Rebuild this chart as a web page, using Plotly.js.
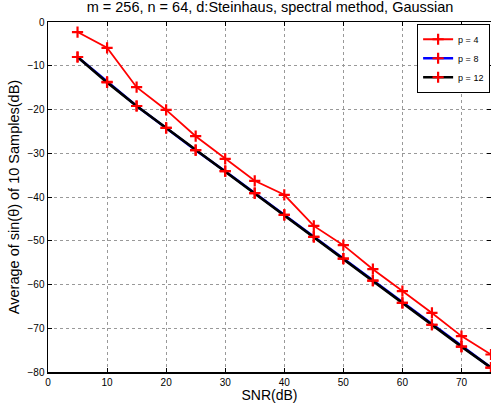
<!DOCTYPE html>
<html><head><meta charset="utf-8">
<script src="https://cdn.plot.ly/plotly-3.0.1.min.js"></script>
<style>body{margin:0;padding:0;background:#fff}#c{width:491px;height:408px}</style>
</head><body><div id="c"></div>
<script>
const snr = [5,10,15,20,25,30,35,40,45,50,55,60,65,70,75];
const p4  = [-2.3,-5.9,-14.9,-20.1,-26.1,-31.3,-36.3,-39.5,-46.6,-51.0,-56.5,-61.5,-66.5,-71.8,-76.0];
const p8  = [-8.0,-13.7,-19.2,-24.2,-29.3,-34.1,-39.1,-44.1,-49.1,-54.1,-59.1,-64.2,-69.2,-74.2,-79.0];
const p12 = [-8.0,-13.8,-19.2,-24.2,-29.3,-34.1,-39.1,-44.1,-49.1,-54.1,-59.1,-64.2,-69.2,-74.2,-79.0];
const names = ['p = 4','p = 8','p = 12'];
const mk = {symbol:'cross-thin',size:8,color:'red',line:{color:'red',width:2.2}};
const traces = [
  {x:snr,y:p4,name:names[0],mode:'lines+markers',line:{color:'red',width:1.8},marker:mk},
  {x:snr,y:p8,name:names[1],mode:'lines+markers',line:{color:'blue',width:2.5},marker:mk},
  {x:snr,y:p12,name:names[2],mode:'lines+markers',line:{color:'black',width:2.6},marker:mk}
];
const ax = {showline:true,linecolor:'black',linewidth:1.5,mirror:'ticks',ticks:'inside',ticklen:4,tickcolor:'black',
  showgrid:true,gridcolor:'#999',griddash:'dot',gridwidth:1,zeroline:false,tickfont:{family:'Liberation Sans, Arial',size:10,color:'black'}};
const layout = {
  width:491,height:408,margin:{l:48,r:0,t:22,b:36},
  paper_bgcolor:'white',plot_bgcolor:'white',
  font:{family:'Liberation Sans, Arial',color:'black'},
  title:{text:'m = 256, n = 64, d:Steinhaus, spectral method, Gaussian',font:{size:14.5},x:0.55,xanchor:'center',y:0.995,yanchor:'top'},
  xaxis:Object.assign({},ax,{range:[0,75],tickvals:[0,10,20,30,40,50,60,70],title:{text:'SNR(dB)',font:{size:14},standoff:0}}),
  yaxis:Object.assign({},ax,{range:[-80,0],tickvals:[0,-10,-20,-30,-40,-50,-60,-70,-80],ticktext:['0','\u221210','\u221220','\u221230','\u221240','\u221250','\u221260','\u221270','\u221280'],title:{text:'Average of sin(\u03b8) of 10 Samples(dB)',font:{size:14.5},standoff:4}}),
  legend:{x:0.998,y:0.995,xanchor:'right',yanchor:'top',bgcolor:'white',bordercolor:'black',borderwidth:1,font:{size:9},tracegroupgap:0,itemwidth:30},
  showlegend:true
};
Plotly.newPlot('c',traces,layout,{displayModeBar:false,staticPlot:true});
</script></body></html>
